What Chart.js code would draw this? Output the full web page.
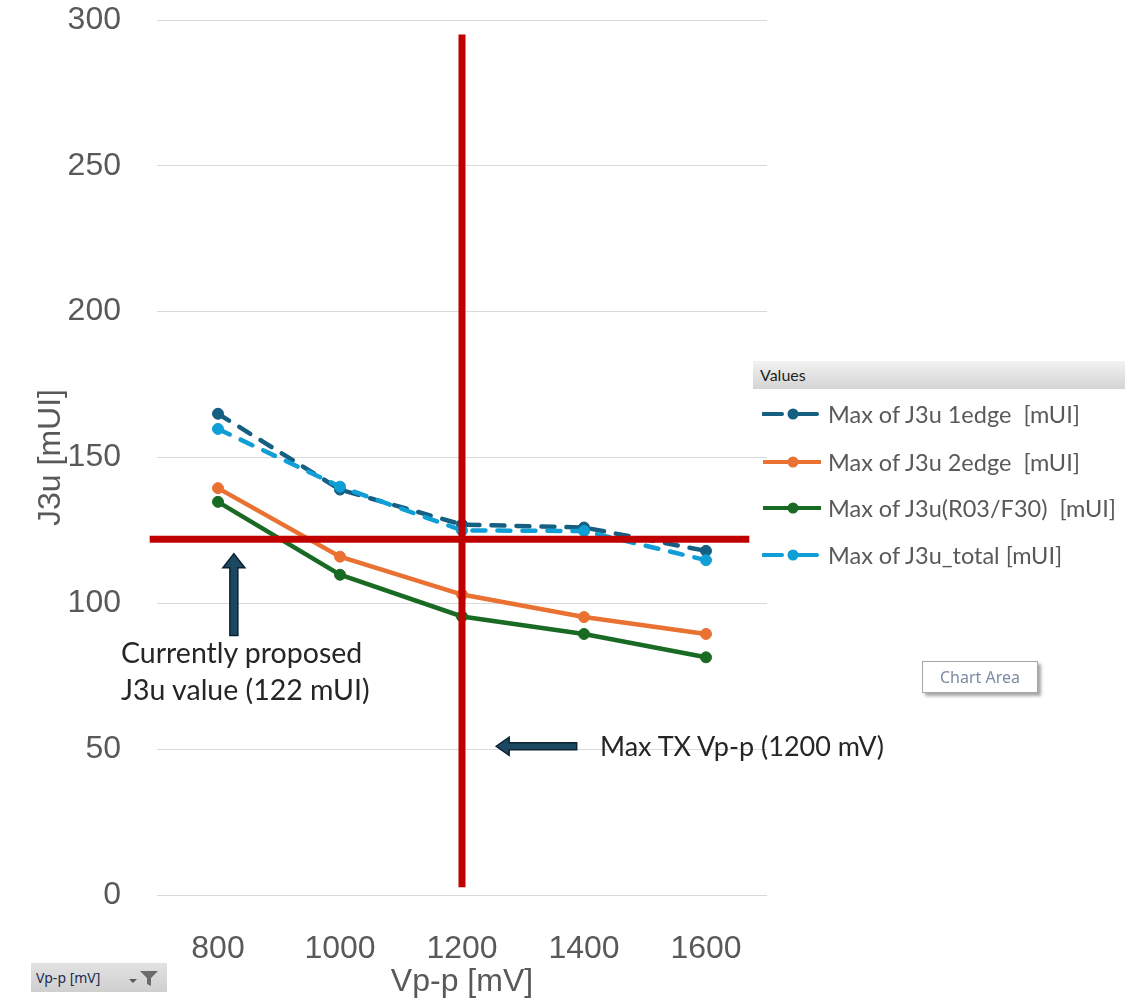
<!DOCTYPE html>
<html>
<head>
<meta charset="utf-8">
<title>J3u vs Vp-p</title>
<script src="https://cdn.jsdelivr.net/npm/chart.js@4.4.1/dist/chart.umd.min.js"></script>
<style>
  body { margin: 0; background: #fff; }
  #page { position: relative; width: 1144px; height: 999px; overflow: hidden; }
  #chart { position: absolute; left: 0; top: 0; }
  .note { position: absolute; color: #262626; font-family: Lato, sans-serif; font-size: 27px; line-height: 37px; white-space: nowrap; }
  #legend { position: absolute; left: 753px; top: 361px; width: 372px; font-family: Lato, sans-serif; }
  #legend .head { height: 28px; line-height: 28px; padding-left: 7px; font-size: 16px; color: #1f1f1f;
    background: linear-gradient(#f2f2f2, #d4d4d4); }
  #legend .row { position: absolute; left: 9px; height: 30px; display: flex; align-items: center; font-size: 23.5px; color: #595959; white-space: pre; }
  #legend svg { margin-right: 6px; }
  #areaTip { position: absolute; left: 922px; top: 661px; width: 114px; height: 30px; border: 1px solid #a6a6a6; background: #fff;
    box-shadow: 3px 3px 3px rgba(0,0,0,0.35); font-family: "Noto Sans", sans-serif; font-size: 16px; line-height: 30px; text-align: center; color: #7d8ba3; }
  #fieldBtn { position: absolute; left: 31px; top: 963px; width: 136px; height: 29px; background: linear-gradient(#e2e2e2, #cfcfcf);
    font-family: "Noto Sans", sans-serif; font-size: 14px; line-height: 29px; color: #1c2b52; padding-left: 5px; box-sizing: border-box; }
  #fieldBtn svg { position: absolute; right: 6px; top: 6px; }
</style>
</head>
<body>
<div id="page">
  <canvas id="chart" width="1144" height="999"></canvas>
  <div class="note" style="left:121px; top:634px; font-size:28.5px;">Currently proposed<br>J3u value (122 mUI)</div>
  <div class="note" style="left:600px; top:727px;">Max TX Vp-p (1200 mV)</div>
  <div id="legend"><div class="head">Values</div></div>
  <div id="areaTip">Chart Area</div>
  <div id="fieldBtn">Vp-p [mV]
    <svg width="36" height="18" viewBox="0 0 36 18">
      <path d="M4 10 L12 10 L8 14 Z" fill="#595959"/>
      <path d="M15 2 L33 2 L26 9 L26 17 L22 15 L22 9 Z" fill="#6b6b6b"/>
    </svg>
  </div>
</div>
<script>
// x categories (mV) and the four measured series (mUI)
const vppLabels = [800, 1000, 1200, 1400, 1600];
const maxJ3u1edge = [165, 139, 127, 126, 118];
const maxJ3u2edge = [139.5, 116, 103, 95.3, 89.5];
const maxJ3uR03F30 = [134.8, 109.8, 95.5, 89.5, 81.5];
const maxJ3uTotal = [159.8, 140, 125, 124.8, 114.8];
const yTicks = [0, 50, 100, 150, 200, 250, 300];

const seriesNames = [
  'Max of J3u 1edge  [mUI]',
  'Max of J3u 2edge  [mUI]',
  'Max of J3u(R03/F30)  [mUI]',
  'Max of J3u_total [mUI]'
];
const seriesColors = ['#156082', '#E97132', '#196B24', '#0F9ED5'];
const seriesDashed = [true, false, false, true];

// reference limits
const proposedJ3u = 122;  // mUI
const maxTxVpp = 1200;    // mV

const axisFont = { family: 'Liberation Sans', size: 32 };
const axisColor = '#595959';

function toPoints(values) {
  return values.map((v, i) => ({ x: vppLabels[i], y: v }));
}

const seriesValues = [maxJ3u1edge, maxJ3u2edge, maxJ3uR03F30, maxJ3uTotal];
const datasets = seriesValues.map((vals, i) => ({
  label: seriesNames[i],
  data: toPoints(vals),
  borderColor: seriesColors[i],
  backgroundColor: seriesColors[i],
  pointBackgroundColor: seriesColors[i],
  pointBorderColor: seriesColors[i],
  borderWidth: 4.5,
  borderDash: seriesDashed[i] ? [13, 12] : [],
  borderCapStyle: 'round',
  pointRadius: 5.5,
  pointBorderWidth: 1,
  order: i === 3 ? 0 : 1,
  tension: 0
}));

// block arrow pointing from (x0,y0) to (x1,y1)
function blockArrow(ctx, x0, y0, x1, y1, shaft, head, headLen) {
  const len = Math.hypot(x1 - x0, y1 - y0);
  ctx.save();
  ctx.translate(x1, y1);
  ctx.rotate(Math.atan2(y0 - y1, x0 - x1));
  ctx.beginPath();
  ctx.moveTo(0, 0);
  ctx.lineTo(headLen, -head);
  ctx.lineTo(headLen, -shaft);
  ctx.lineTo(len, -shaft);
  ctx.lineTo(len, shaft);
  ctx.lineTo(headLen, shaft);
  ctx.lineTo(headLen, head);
  ctx.closePath();
  ctx.fillStyle = '#1d4862';
  ctx.fill();
  ctx.strokeStyle = '#0b2333';
  ctx.lineWidth = 1.5;
  ctx.stroke();
  ctx.restore();
}

const markupPlugin = {
  id: 'markup',
  afterDatasetsDraw(chart) {
    const { ctx, scales: { x, y } } = chart;
    ctx.save();
    ctx.strokeStyle = '#C00000';
    ctx.lineWidth = 7;
    ctx.lineCap = 'butt';
    // proposed J3u limit
    const yp = y.getPixelForValue(proposedJ3u);
    ctx.beginPath();
    ctx.moveTo(x.getPixelForValue(688), yp);
    ctx.lineTo(x.getPixelForValue(1671), yp);
    ctx.stroke();
    // max TX swing
    const xp = x.getPixelForValue(maxTxVpp);
    ctx.beginPath();
    ctx.moveTo(xp, y.getPixelForValue(295));
    ctx.lineTo(xp, y.getPixelForValue(2.7));
    ctx.stroke();
    ctx.restore();

    blockArrow(ctx, x.getPixelForValue(826), y.getPixelForValue(89), x.getPixelForValue(826), y.getPixelForValue(117), 4, 11, 14);
    blockArrow(ctx, x.getPixelForValue(1388), y.getPixelForValue(51), x.getPixelForValue(1256), y.getPixelForValue(51), 3.5, 9, 13);
  }
};

new Chart(document.getElementById('chart').getContext('2d'), {
  type: 'line',
  data: { datasets: datasets },
  plugins: [markupPlugin],
  options: {
    responsive: false,
    animation: false,
    devicePixelRatio: 1,
    layout: { padding: { left: 0, right: 377, top: 20, bottom: 0 } },
    plugins: { legend: { display: false }, tooltip: { enabled: false } },
    scales: {
      x: {
        type: 'linear',
        min: 700,
        max: 1700,
        afterBuildTicks: (s) => { s.ticks = vppLabels.map(v => ({ value: v })); },
        afterFit: (s) => { s.height = 104; s.paddingLeft = 0; s.paddingRight = 0; },
        grid: { display: false },
        border: { display: false },
        ticks: { padding: 27, color: axisColor, font: axisFont, maxRotation: 0, callback: (v) => String(v) },
        title: { display: true, text: 'Vp-p [mV]', color: axisColor, font: axisFont, padding: { top: 0, bottom: -2 } }
      },
      y: {
        min: 0,
        max: 300,
        afterBuildTicks: (s) => { s.ticks = yTicks.map(v => ({ value: v })); },
        afterFit: (s) => { s.width = 157; s.paddingTop = 0; s.paddingBottom = 0; },
        grid: { color: '#d9d9d9', lineWidth: 1, drawTicks: false },
        border: { display: false },
        ticks: { padding: 36, color: axisColor, font: axisFont },
        title: { display: true, text: 'J3u [mUI]', color: axisColor, font: axisFont, padding: { top: 32, bottom: 0 } }
      }
    }
  }
});

// legend rows
const legendEl = document.getElementById('legend');
const rowTops = [38, 86, 132, 179];
seriesNames.forEach((name, i) => {
  const row = document.createElement('div');
  row.className = 'row';
  row.style.top = rowTops[i] + 'px';
  const c = seriesColors[i];
  const line = seriesDashed[i]
    ? `<line x1="1" y1="10" x2="20" y2="10" stroke="${c}" stroke-width="4" stroke-linecap="round"/>` +
      `<line x1="31" y1="10" x2="55" y2="10" stroke="${c}" stroke-width="4" stroke-linecap="round"/>`
    : `<line x1="1" y1="10" x2="59" y2="10" stroke="${c}" stroke-width="4"/>`;
  row.innerHTML = `<svg width="60" height="20">${line}<circle cx="31" cy="10" r="5.5" fill="${c}"/></svg><span>${name}</span>`;
  legendEl.appendChild(row);
});
</script>
</body>
</html>
